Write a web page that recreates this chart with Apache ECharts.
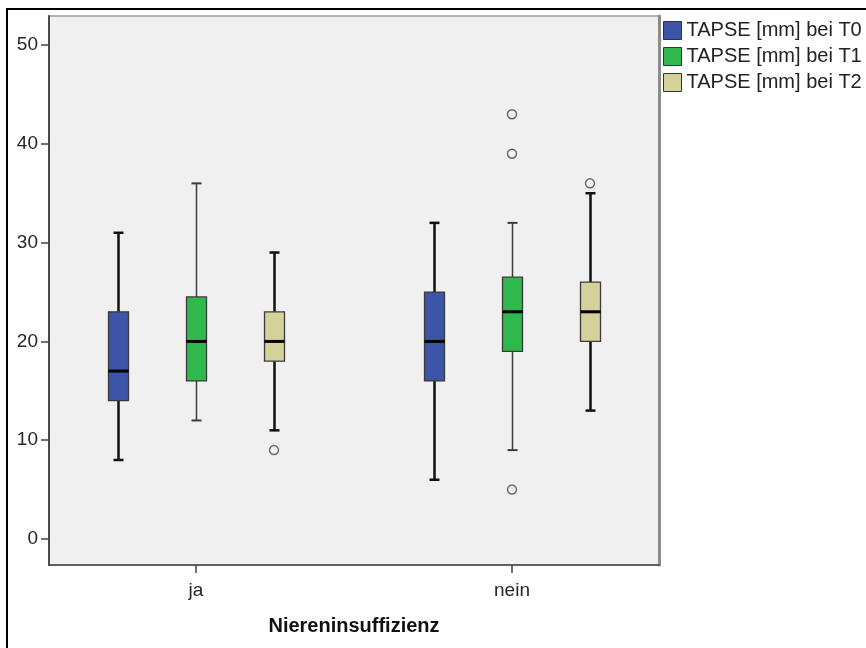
<!DOCTYPE html>
<html>
<head>
<meta charset="utf-8">
<script src="https://cdn.jsdelivr.net/npm/echarts@6/dist/echarts.min.js"></script>
<style>
html,body{margin:0;padding:0;background:#fff;}
#chart{width:866px;height:648px;}
</style>
</head>
<body>
<div id="chart"></div>
<script>
// ---- data ----
const categories = ['ja', 'nein'];
const seriesNames = ['TAPSE [mm] bei T0', 'TAPSE [mm] bei T1', 'TAPSE [mm] bei T2'];
// [min, Q1, median, Q3, max] per category
const t0Box = [[8, 14, 17, 23, 31], [6, 16, 20, 25, 32]];
const t1Box = [[12, 16, 20, 24.5, 36], [9, 19, 23, 26.5, 32]];
const t2Box = [[11, 18, 20, 23, 29], [13, 20, 23, 26, 35]];
const t0Outliers = [[], []];
const t1Outliers = [[], [43, 39, 5]];
const t2Outliers = [[9], [36]];
const yTicks = [0, 10, 20, 30, 40, 50];
const xTitle = 'Niereninsuffizienz';

// ---- styles ----
const boxColors = ['#3d55a8', '#2fb94c', '#d5d19b'];
const whiskerStyles = [
  { stroke: '#111', lineWidth: 2.5, cap: 2.5 },
  { stroke: '#3c3c3c', lineWidth: 1.5, cap: 2 },
  { stroke: '#111', lineWidth: 2.5, cap: 2.5 }
];
const slotOffset = 78 / 316; // series spacing inside a group in x-axis units
const FONT = '"Liberation Sans", Arial, sans-serif';

const boxes = [t0Box, t1Box, t2Box];
const outliers = [t0Outliers, t1Outliers, t2Outliers];

function makeRender(si) {
  const ws = whiskerStyles[si];
  return function (params, api) {
    const x = api.value(0);
    const pMin = api.coord([x, api.value(1)]);
    const pQ1 = api.coord([x, api.value(2)]);
    const pMed = api.coord([x, api.value(3)]);
    const pQ3 = api.coord([x, api.value(4)]);
    const pMax = api.coord([x, api.value(5)]);
    const cx = Math.round(pMin[0]) + 0.5;
    const half = 10, capHalf = 5;
    const ls = { stroke: ws.stroke, lineWidth: ws.lineWidth };
    const cs = { stroke: ws.stroke, lineWidth: ws.cap };
    return {
      type: 'group',
      children: [
        { type: 'line', shape: { x1: cx, y1: pMax[1], x2: cx, y2: pQ3[1] }, style: ls },
        { type: 'line', shape: { x1: cx, y1: pQ1[1], x2: cx, y2: pMin[1] }, style: ls },
        { type: 'line', shape: { x1: cx - capHalf, y1: pMax[1], x2: cx + capHalf, y2: pMax[1] }, style: cs },
        { type: 'line', shape: { x1: cx - capHalf, y1: pMin[1], x2: cx + capHalf, y2: pMin[1] }, style: cs },
        { type: 'rect', shape: { x: cx - half, y: pQ3[1], width: half * 2, height: pQ1[1] - pQ3[1] },
          style: { fill: boxColors[si], stroke: '#3a3a3a', lineWidth: 1.3 } },
        { type: 'line', shape: { x1: cx - half, y1: pMed[1], x2: cx + half, y2: pMed[1] },
          style: { stroke: '#000', lineWidth: 3 } }
      ]
    };
  };
}

const series = [];
boxes.forEach(function (b, si) {
  const xOff = (si - 1) * slotOffset;
  series.push({
    name: seriesNames[si],
    type: 'custom',
    renderItem: makeRender(si),
    itemStyle: { color: boxColors[si] },
    encode: { x: 0, y: [1, 2, 3, 4, 5] },
    data: b.map(function (v, ci) { return [ci + xOff].concat(v); }),
    z: 3
  });
});
outliers.forEach(function (o, si) {
  const xOff = (si - 1) * slotOffset;
  const pts = [];
  o.forEach(function (vals, ci) { vals.forEach(function (v) { pts.push([ci + xOff, v]); }); });
  series.push({
    name: 'Ausreißer ' + si,
    type: 'scatter',
    symbol: 'circle',
    symbolSize: 9,
    itemStyle: { color: '#f4f4f4', borderColor: '#4a4a4a', borderWidth: 1.5 },
    data: pts,
    z: 4
  });
});

const chart = echarts.init(document.getElementById('chart'), null, { renderer: 'canvas' });
chart.setOption({
  animation: false,
  backgroundColor: '#ffffff',
  textStyle: { fontFamily: FONT },
  grid: {
    left: 49, right: 207, top: 16, bottom: 83,
    show: true, backgroundColor: '#f0f0f0', borderColor: '#9a9a9a', borderWidth: 1.5
  },
  legend: {
    orient: 'vertical',
    left: 663, top: 20,
    itemWidth: 18, itemHeight: 18, itemGap: 5,
    padding: 0,
    textStyle: { fontFamily: FONT, fontSize: 20, color: '#222', lineHeight: 21 },
    data: seriesNames.map(function (n, i) {
      return { name: n, icon: 'rect', itemStyle: { color: boxColors[i], borderColor: '#333', borderWidth: 1 } };
    })
  },
  xAxis: {
    type: 'value',
    min: -(196 - 49) / 316,
    max: 1 + (659 - 512) / 316,
    name: xTitle,
    nameLocation: 'middle',
    nameGap: 51,
    nameTextStyle: { fontFamily: FONT, fontSize: 20, fontWeight: 'bold', color: '#111' },
    axisLine: { show: true, onZero: false, lineStyle: { color: '#444', width: 1.5 } },
    axisTick: { show: true, customValues: [0, 1], length: 8, lineStyle: { color: '#444', width: 1.5 } },
    axisLabel: {
      customValues: [0, 1], margin: 16,
      fontFamily: FONT, fontSize: 19, color: '#262626',
      formatter: function (v) { return categories[Math.round(v)]; }
    },
    splitLine: { show: false }
  },
  yAxis: [{
    type: 'value',
    min: -2.63, max: 52.94,
    axisLine: { show: true, onZero: false, lineStyle: { color: '#4a4a4a', width: 2 } },
    axisTick: { show: true, customValues: yTicks, length: 8, lineStyle: { color: '#444', width: 1.5 } },
    axisLabel: { customValues: yTicks, margin: 11, fontFamily: FONT, fontSize: 19, color: '#262626' },
    splitLine: { show: false }
  }, {
    type: 'value',
    position: 'right',
    min: -2.63, max: 52.94,
    axisLine: { show: true, onZero: false, lineStyle: { color: '#8c8c8c', width: 3 } },
    axisTick: { show: false }, axisLabel: { show: false }, splitLine: { show: false }
  }],
  graphic: [{
    type: 'polyline',
    shape: { points: [[7, 648], [7, 9], [866, 9]] },
    style: { stroke: '#000', lineWidth: 2, fill: null },
    silent: true
  }],
  series: series
});
</script>
</body>
</html>
